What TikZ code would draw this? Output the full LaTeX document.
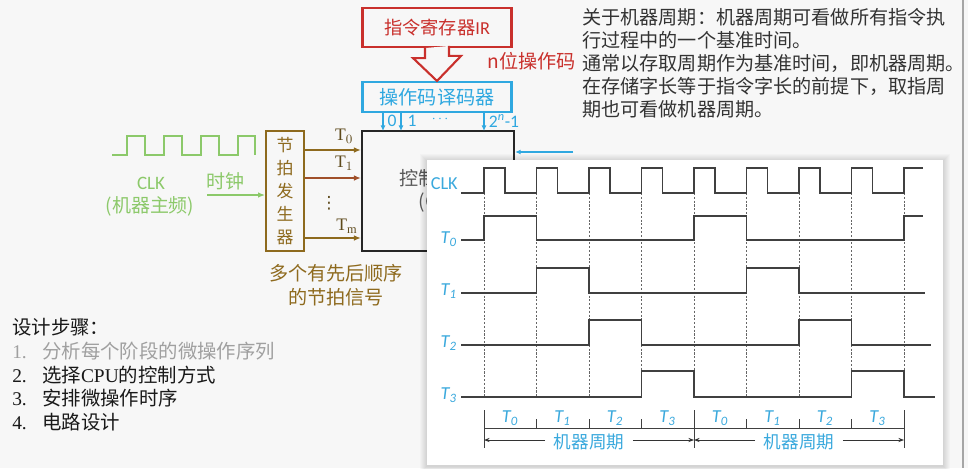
\documentclass[tikz,border=0pt]{standalone}
\usepackage{fontspec}
\setmainfont{Liberation Serif}
\newfontfamily\cjk{Noto Sans CJK SC}
\newfontfamily\calib{Carlito}
\newfontfamily\symb{DejaVu Sans}
\usetikzlibrary{arrows.meta,calc}

\definecolor{irred}{HTML}{C9302C}
\definecolor{deccyan}{HTML}{2FA8E0}
\definecolor{sigcyan}{HTML}{3AA9DD}
\definecolor{clkgreen}{HTML}{8CC96A}
\definecolor{beatbrown}{HTML}{8E6A1E}
\definecolor{beatred}{HTML}{A0502A}
\definecolor{beatdark}{HTML}{5E4A1C}
\definecolor{slidebg}{HTML}{F7F7F7}
\definecolor{txtgray}{HTML}{333333}
\definecolor{stepgray}{HTML}{A0A0A0}

\begin{document}
\begin{tikzpicture}[x=0.025cm,y=-0.025cm,
	every node/.style={inner sep=0pt},
	regbox/.style={draw=irred,line width=1.5pt,minimum width=3.725cm,minimum height=0.975cm},
	decbox/.style={draw=deccyan,line width=1.5pt,minimum width=3.725cm,minimum height=0.75cm},
	ctrlbox/.style={draw=black!85,line width=1.5pt,minimum width=3.8cm,minimum height=3cm},
	genbox/.style={draw=beatbrown,line width=1.3pt,minimum width=0.95cm,minimum height=3cm},
	decarrow/.style={deccyan,line width=0.9pt,-{Latex[length=4pt,width=3.5pt]}},
	beatarrow/.style={line width=1.3pt,-{Latex[length=5pt,width=4pt]}},
	beatlabel/.style={text=beatdark,font=\fontsize{12.5}{14}\selectfont},
	wave/.style={line width=1.1pt,black!75},
	slotline/.style={black!60,line width=0.5pt,dash pattern=on 1.5pt off 1.2pt},
	siglabel/.style={text=sigcyan,font=\calib\itshape\fontsize{13}{15}\selectfont},
	big/.style={font=\cjk\fontsize{13.6}{16.4}\selectfont}]

\fill[slidebg] (0,0) rectangle (968,468);
\useasboundingbox (0,0) rectangle (968,468);
\draw[black!35,line width=0.8pt] (963,0) -- (963,468);

% IR and decoder
\node[regbox,text=irred,font=\cjk\fontsize{13}{15}\selectfont] (ir) at (437,27.5) {指令寄存器{\calib IR}};
\node[decbox,text=deccyan,big] (dec) at (437,97) {操作码译码器};
\draw[irred,line width=1.5pt,fill=slidebg] ($(ir.south)+(-12,0)$) -- ++(0,10) -- ++(-12,0)
	-- (dec.north) -- ++(24,-25) -- ++(-12,0) -- ++(0,-10);
\node[text=irred,big] (opc) at (532,61) {n位操作码};

% control unit
\node[ctrlbox,align=center,text=black!65,big] (cu) at (438,191) {控制单元\\(CU)};
\draw[decarrow] ($(dec.south)+(-54,0)$) -- ++(0,18);
\draw[decarrow] ($(dec.south)+(-36,0)$) -- ++(0,18);
\draw[decarrow] ($(dec.south)+(47,0)$) -- ++(0,18);
\node[text=deccyan,font=\calib\fontsize{12.5}{14}\selectfont] (out0) at (392,121) {0};
\node[text=deccyan,font=\calib\fontsize{12.5}{14}\selectfont] (out1) at (412,121) {1};
\node[text=deccyan] (outdots) at (440,119) {$\cdots$};
\node[text=deccyan,font=\calib\fontsize{12.5}{14}\selectfont] (outn) at (504,121) {2\textsuperscript{\itshape n}-1};
\coordinate (irq) at (573,152);
\draw[decarrow] (irq) -- (irq -| cu.east);

% beat generator
\node[genbox,align=center,text=beatbrown,font=\cjk\fontsize{12}{16.4}\selectfont] (gen) at (285,191) {节\\拍\\发\\生\\器};
\draw[beatarrow,draw=beatbrown] (gen.east |- 0,150) -- (cu.west |- 0,150);
\draw[beatarrow,draw=beatred] (gen.east |- 0,178) -- (cu.west |- 0,178);
\draw[beatarrow,draw=beatbrown] (gen.east |- 0,238) -- (cu.west |- 0,238);
\node[beatlabel] (lt0) at (344,136) {$\mathrm{T}_0$};
\node[beatlabel] (lt1) at (344,163) {$\mathrm{T}_1$};
\node[text=beatdark,font=\symb\fontsize{12}{14}\selectfont] (ltdots) at (329,203) {⋮};
\node[beatlabel] (ltm) at (347,226) {$\mathrm{T}_\mathrm{m}$};
\node[align=center,text=beatbrown,font=\cjk\fontsize{13.6}{17}\selectfont] (beatnote) at (336,285) {多个有先后顺序\\的节拍信号};

% clock
\draw[clkgreen,line width=0.9pt] (112,155) -| (127,136) -| (145,155) -| (164,136) -| (182,155)
	-| (201,136) -| (219,155) -| (238,136) -| (255,155);
\node[text=clkgreen,font=\calib\fontsize{13.5}{16}\selectfont] (clk) at (151,183) {CLK};
\node[text=clkgreen,font=\cjk\fontsize{13.5}{16}\selectfont] (mfreq) at (150,206) {(机器主频)};
\node[text=clkgreen,font=\cjk\fontsize{13.5}{16}\selectfont] (tick) at (225,181) {时钟};
\coordinate (clkin) at (207,195);
\draw[clkgreen,line width=1.3pt,-{Latex[length=5pt,width=4pt]}] (clkin) -- (clkin -| gen.west);

% notes
\node[anchor=north west,align=left,text=txtgray,big] (cycnote) at (582,8)
	{关于机器周期：机器周期可看做所有指令执\\行过程中的一个基准时间。\\通常以存取周期作为基准时间，即机器周期。\\在存储字长等于指令字长的前提下，取指周\\期也可看做机器周期。};
\node[anchor=north west,align=left,text=black!90,font=\cjk\fontsize{13.8}{16.9}\selectfont] (steps) at (12,318)
	{设计步骤：\\
	{\color{stepgray}\makebox[21.3pt][l]{\rmfamily 1.}分析每个阶段的微操作序列}\\
	\makebox[21.3pt][l]{\rmfamily 2.}选择{\rmfamily CPU}的控制方式\\
	\makebox[21.3pt][l]{\rmfamily 3.}安排微操作时序\\
	\makebox[21.3pt][l]{\rmfamily 4.}电路设计};

% timing panel
\foreach \s in {1,...,7}
	\fill[black,opacity=0.02] ({427-\s},{160-\s+1}) rectangle ({943+\s},{465+\s+1});
\node[fill=white,minimum width=12.9cm,minimum height=7.625cm] (panel) at (685,312.5) {};

\foreach \k in {0,...,8}
	\draw[slotline] ({484+52.5*\k},193) -- ({484+52.5*\k},397);
\draw[wave] (461,193) \foreach \k in {0,...,7}{ -| ({484+52.5*\k},168) -| ({505+52.5*\k},193) }
	-| (904,168) -- (923,168);
\draw[wave] (461,240) -| (484,216) -| (536.5,240) -| (694,216) -| (746.5,240) -| (904,216) -- (923,216);
\draw[wave] (461,293) -| (536.5,268) -| (589,293) -| (746.5,268) -| (799,293) -- (925,293);
\draw[wave] (461,345) -| (589,320) -| (641.5,345) -| (799,320) -| (851.5,345) -- (931,345);
\draw[wave] (461,397) -| (641.5,371) -| (694,397) -| (851.5,371) -| (904,397) -- (935,397);
\node[text=sigcyan,font=\calib\fontsize{13}{15}\selectfont,anchor=east] (lclk) at (458,184) {CLK};
\node[siglabel,anchor=east] (lsig0) at (457,239) {T\textsubscript{0}};
\node[siglabel,anchor=east] (lsig1) at (457,291) {T\textsubscript{1}};
\node[siglabel,anchor=east] (lsig2) at (457,343) {T\textsubscript{2}};
\node[siglabel,anchor=east] (lsig3) at (457,395) {T\textsubscript{3}};

% machine cycles
\draw[black!75,line width=0.7pt] (484,428) -- (904,428);
\foreach \k in {0,4,8}
	\draw[black!75,line width=0.7pt] ({484+52.5*\k},410) -- ({484+52.5*\k},448);
\foreach \k in {1,2,3,5,6,7}
	\draw[black!75,line width=0.7pt] ({484+52.5*\k},419) -- ({484+52.5*\k},428);
\foreach \k/\n in {0/0,1/1,2/2,3/3,4/0,5/1,6/2,7/3}
	\node[siglabel] (slot\k) at ({510+52.5*\k},418) {T\textsubscript{\n}};
\node[text=sigcyan,font=\cjk\fontsize{12.5}{14}\selectfont,inner xsep=6pt] (mc1) at (589,442) {机器周期};
\node[text=sigcyan,font=\cjk\fontsize{12.5}{14}\selectfont,inner xsep=6pt] (mc2) at (799,442) {机器周期};
\coordinate (p0) at (484,440);
\coordinate (p4) at (694,440);
\coordinate (p8) at (904,440);
\draw[black!80,line width=0.7pt,-{Stealth[length=4pt,width=3pt]}] (mc1.west |- p0) -- (p0);
\draw[black!80,line width=0.7pt,-{Stealth[length=4pt,width=3pt]}] (mc1.east |- p0) -- (p4);
\draw[black!80,line width=0.7pt,-{Stealth[length=4pt,width=3pt]}] (mc2.west |- p0) -- (p4);
\draw[black!80,line width=0.7pt,-{Stealth[length=4pt,width=3pt]}] (mc2.east |- p0) -- (p8);
\end{tikzpicture}
\end{document}
